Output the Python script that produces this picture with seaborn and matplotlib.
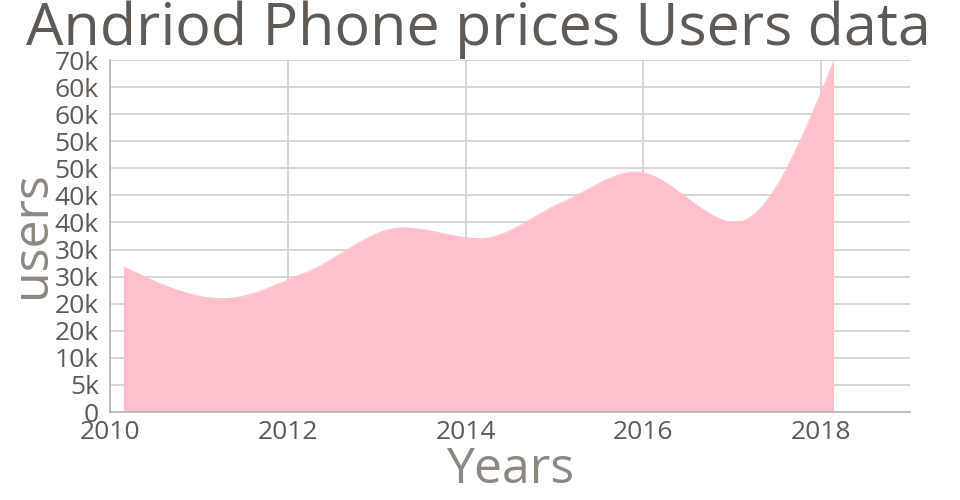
import numpy as np
import pandas as pd
import matplotlib
matplotlib.use('Agg')
import matplotlib.pyplot as plt
import seaborn as sns

#  Data
years = [2010.15, 2011.27, 2012.2, 2013.29, 2014.16, 2015.1, 2015.92, 2017.04, 2018.14]
users = [26800, 20900, 25700, 34000, 32000, 38800, 44300, 35000, 64600]
x_ticks = [2010, 2012, 2014, 2016, 2018]
y_ticks = list(range(0, 65001, 5000))
y_labels = ['0', '5k', '10k', '20k', '20k', '30k', '30k', '40k', '40k',
            '50k', '50k', '60k', '60k', '70k']

TXT = '#5f5a56'
LBL = '#8d8882'
GRID = '#d6d4d1'
SPINE = '#bdbab6'
PINK = '#ffc0cb'


def monotone_curve(x, y, n=60):
    # monotone cubic (d3 curveMonotoneX style) for a smooth area edge
    x = np.asarray(x, float); y = np.asarray(y, float)
    h = np.diff(x); d = np.diff(y) / h
    m = np.zeros(len(x))
    for i in range(1, len(x) - 1):
        s0, s1 = d[i - 1], d[i]
        p = (s0 * h[i] + s1 * h[i - 1]) / (h[i - 1] + h[i])
        m[i] = (np.sign(s0) + np.sign(s1)) * min(abs(s0), abs(s1), 0.5 * abs(p))
    m[0] = (3 * d[0] - m[1]) / 2
    m[-1] = (3 * d[-1] - m[-2]) / 2
    xs, ys = [], []
    for i in range(len(h)):
        t = np.linspace(0, 1, n, endpoint=(i == len(h) - 1))
        h00 = 2 * t**3 - 3 * t**2 + 1
        h10 = t**3 - 2 * t**2 + t
        h01 = -2 * t**3 + 3 * t**2
        h11 = t**3 - t**2
        xs.append(x[i] + t * h[i])
        ys.append(h00 * y[i] + h10 * h[i] * m[i] + h01 * y[i + 1] + h11 * h[i] * m[i + 1])
    return pd.DataFrame({'year': np.concatenate(xs), 'users': np.concatenate(ys)})


sns.set_theme(style='whitegrid')
plt.rcParams['font.family'] = ['Open Sans', 'DejaVu Sans']

fig = plt.figure(figsize=(9.6, 5.0), dpi=100)
ax = fig.add_axes([110 / 960, 88 / 500, 800 / 960, 352 / 500])

curve = monotone_curve(years, users)
ax.fill_between(curve['year'], curve['users'], color=PINK, lw=0, zorder=2)
sns.lineplot(data=curve, x='year', y='users', color=PINK, lw=0.8, ax=ax, zorder=2)

ax.set_xlim(2010, 2019)
ax.set_ylim(0, 65000)
ax.set_xticks(x_ticks)
ax.set_xticklabels([str(t) for t in x_ticks])
ax.set_yticks(y_ticks)
ax.set_yticklabels(y_labels)
ax.tick_params(axis='both', length=0, labelsize=19, colors=TXT)
ax.tick_params(axis='y', pad=8)
ax.tick_params(axis='x', pad=6)

ax.set_facecolor('white')
ax.grid(True, color=GRID, lw=1.3)
ax.set_axisbelow(True)
for s in ['top', 'right']:
    ax.spines[s].set_visible(False)
for s in ['left', 'bottom']:
    ax.spines[s].set_visible(True)
    ax.spines[s].set_color(SPINE)
    ax.spines[s].set_linewidth(1.3)
    ax.spines[s].set_zorder(3)

ax.set_xlabel('Years', fontsize=36, color=LBL, va='baseline')
ax.xaxis.set_label_coords(0.5, -(483 - 412) / 352)
ax.set_ylabel('users', fontsize=36, color=LBL, va='baseline')
ax.yaxis.set_label_coords((45 - 110) / 800, 0.504)
fig.text(0.4985, 1 - 45 / 500, 'Andriod Phone prices Users data', fontsize=42.7,
         color=TXT, ha='center', va='baseline')

fig.savefig('out.png', dpi=100, facecolor='white')
